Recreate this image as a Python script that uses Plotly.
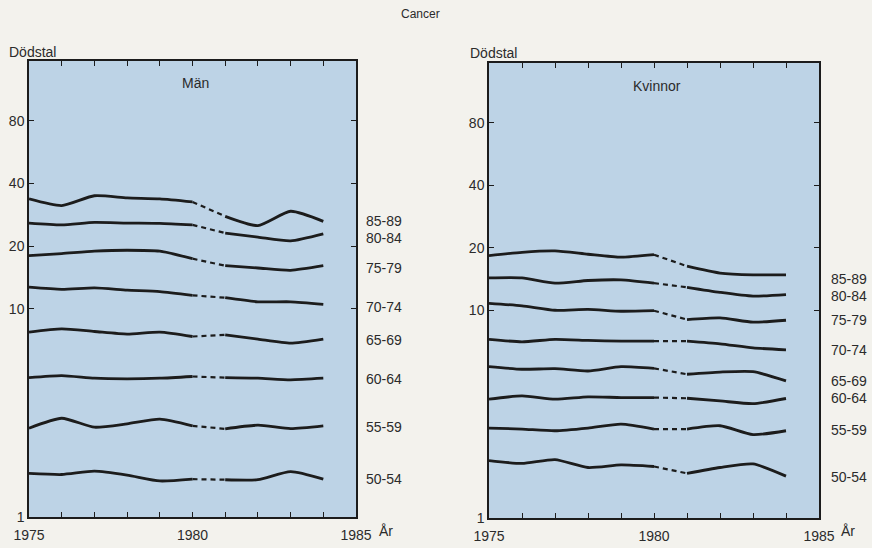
import plotly.graph_objects as go

years = [1975, 1976, 1977, 1978, 1979, 1980, 1981, 1982, 1983, 1984]
age_groups = ["85-89", "80-84", "75-79", "70-74", "65-69", "60-64", "55-59", "50-54"]

men = {
    "85-89": [33.7, 31.3, 34.9, 34.1, 33.7, 32.6, 27.8, 25.1, 29.4, 26.3],
    "80-84": [25.8, 25.3, 26.0, 25.8, 25.7, 25.3, 23.1, 22.1, 21.2, 22.9],
    "75-79": [18.0, 18.4, 18.9, 19.1, 18.9, 17.4, 16.1, 15.7, 15.3, 16.1],
    "70-74": [12.7, 12.4, 12.6, 12.3, 12.1, 11.6, 11.3, 10.8, 10.8, 10.5],
    "65-69": [7.73, 8.01, 7.78, 7.56, 7.73, 7.36, 7.50, 7.15, 6.84, 7.15],
    "60-64": [4.67, 4.78, 4.64, 4.61, 4.64, 4.73, 4.67, 4.64, 4.56, 4.64],
    "55-59": [2.67, 2.98, 2.70, 2.80, 2.95, 2.74, 2.65, 2.76, 2.66, 2.74],
    "50-54": [1.62, 1.60, 1.66, 1.59, 1.49, 1.52, 1.51, 1.51, 1.65, 1.52],
}
women = {
    "85-89": [18.3, 19.0, 19.3, 18.6, 18.0, 18.5, 16.3, 15.1, 14.8, 14.8],
    "80-84": [14.3, 14.3, 13.5, 13.9, 14.0, 13.5, 12.9, 12.2, 11.7, 11.9],
    "75-79": [10.8, 10.5, 10.0, 10.1, 9.89, 9.95, 9.02, 9.19, 8.76, 8.95],
    "70-74": [7.24, 7.05, 7.24, 7.16, 7.10, 7.10, 7.10, 6.89, 6.59, 6.45],
    "65-69": [5.35, 5.20, 5.23, 5.10, 5.35, 5.25, 4.92, 5.04, 5.06, 4.57],
    "60-64": [3.73, 3.87, 3.73, 3.83, 3.80, 3.80, 3.77, 3.66, 3.55, 3.76],
    "55-59": [2.71, 2.68, 2.63, 2.71, 2.83, 2.68, 2.68, 2.78, 2.52, 2.63],
    "50-54": [1.89, 1.83, 1.91, 1.75, 1.80, 1.77, 1.64, 1.75, 1.82, 1.59],
}
ytick_vals = [1, 10, 20, 40, 80]
xtick_labels = {1975: "1975", 1980: "1980", 1985: "1985"}
break_start, break_end = 1980, 1981

# layout (pixel) helpers
W, H = 872, 548
def px(x):
    return x / W
def py(y):
    return (H - y) / H

FONT = "Liberation Sans, Arial, sans-serif"
TXT = "#2b2b2b"
LINE = "#1c1c1c"

fig = go.Figure()

def add_panel(data, xa, ya):
    for g in age_groups:
        vals = data[g]
        i0 = years.index(break_start)
        i1 = years.index(break_end)
        xs = years[: i0 + 1] + [None] + years[i1:]
        ys = vals[: i0 + 1] + [None] + vals[i1:]
        fig.add_trace(go.Scatter(x=xs, y=ys, mode="lines", xaxis=xa, yaxis=ya,
                                 line=dict(color=LINE, width=2.8, shape="spline", smoothing=0.6),
                                 showlegend=False, hoverinfo="skip"))
        fig.add_trace(go.Scatter(x=[years[i0], years[i1]], y=[vals[i0], vals[i1]], mode="lines",
                                 xaxis=xa, yaxis=ya,
                                 line=dict(color=LINE, width=2.2, dash="5px,4px"),
                                 showlegend=False, hoverinfo="skip"))

add_panel(men, "x", "y")
add_panel(women, "x2", "y2")

tickvals_x = list(range(1975, 1986))
ticktext_x = [xtick_labels.get(v, "") for v in tickvals_x]

def xaxis_cfg(domain, anchor):
    return dict(domain=domain, anchor=anchor, range=[1975, 1985], tickvals=tickvals_x,
                ticktext=ticktext_x, ticks="inside", ticklen=5, tickwidth=1.2, tickcolor=LINE,
                showline=True, linecolor=LINE, linewidth=1.5, mirror="ticks",
                showgrid=False, zeroline=False, automargin=False, ticklabelstandoff=4,
                tickfont=dict(family=FONT, size=14, color=TXT))

def yaxis_cfg(domain, anchor):
    return dict(domain=domain, anchor=anchor, type="log", range=[0, 2.19],
                tickvals=ytick_vals, ticktext=[str(v) for v in ytick_vals],
                ticks="inside", ticklen=5, tickwidth=1.2, tickcolor=LINE,
                showline=True, linecolor=LINE, linewidth=1.5, mirror="ticks",
                showgrid=False, zeroline=False, automargin=False,
                tickfont=dict(family=FONT, size=14, color=TXT))

fig.update_layout(
    width=W, height=H, margin=dict(l=0, r=0, t=0, b=0, autoexpand=False),
    paper_bgcolor="#f3f2ed", plot_bgcolor="#bdd3e6",
    xaxis=xaxis_cfg([px(29), px(356)], "y"),
    yaxis=yaxis_cfg([py(517), py(61)], "x"),
    xaxis2=xaxis_cfg([px(489), px(819)], "y2"),
    yaxis2=yaxis_cfg([py(518), py(63)], "x2"),
    showlegend=False,
)

ann = []
def text(x, y, s, size=14, xanchor="left"):
    ann.append(dict(x=px(x), y=py(y), xref="paper", yref="paper", text=s, showarrow=False,
                    xanchor=xanchor, yanchor="middle", font=dict(family=FONT, size=size, color=TXT)))

text(420, 14, "Cancer", 12, "center")
text(7, 52, "Dödstal", 14)
text(468, 53, "Dödstal", 14)
text(195, 83, "Män", 14, "center")
text(657, 86, "Kvinnor", 14, "center")
text(377, 531, "År", 14)
text(839, 531, "År", 14)

men_label_y = [221, 238, 268, 307, 340, 379, 427, 479]
women_label_y = [279, 296, 320, 350, 381, 398, 430, 477]
for g, yy in zip(age_groups, men_label_y):
    text(364, yy, g, 14)
for g, yy in zip(age_groups, women_label_y):
    text(829, yy, g, 14)

fig.update_layout(annotations=ann)
fig.write_html("out.html", config={"displayModeBar": False},
               post_script="document.body.style.margin='0';")
